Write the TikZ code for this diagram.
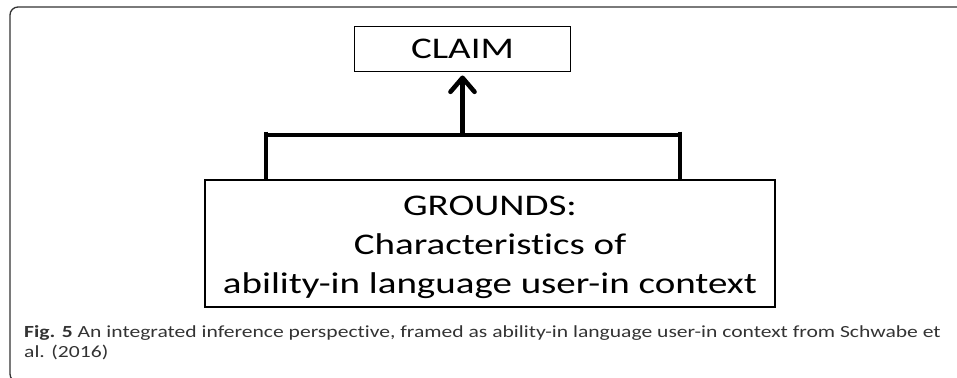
\documentclass[tikz,border=0pt]{standalone}
\usepackage{fontspec}
\usetikzlibrary{arrows.meta}
\newfontfamily\diagfont{Carlito}[FakeStretch=1.3,Ligatures=NoCommon]
\newfontfamily\capfont{Carlito}[FakeStretch=1.27,Ligatures=NoCommon]
\definecolor{framegray}{HTML}{333333}
\definecolor{capgray}{HTML}{333333}
\begin{document}
\begin{tikzpicture}[x=1pt,y=-1pt,
  box/.style={draw=black, line width=1.6pt, inner sep=0pt,
    font=\diagfont\fontsize{30}{39}\selectfont, align=center},
  legline/.style={draw=black, line width=4pt},
  barline/.style={draw=black, line width=3.6pt},
  uparrow/.style={draw=black, line width=4.6pt,
    -{Straight Barb[length=14pt,width=24pt,round]}},
  frameline/.style={draw=framegray, line width=1.3pt, rounded corners=8pt},
  captext/.style={anchor=base west, inner sep=0pt, text=capgray,
    font=\capfont\fontsize{17}{20}\selectfont}]
\useasboundingbox (0,0) rectangle (957,377);
\begin{scope}
  \clip (0,0) rectangle (957,377);
  \draw[frameline] (10,7) rectangle (1000,382);
\end{scope}
\node[box, minimum width=216pt, minimum height=45pt] (claim) at (462.5,49.2) {CLAIM};
\node[box, minimum width=570pt, minimum height=127pt] (grounds) at (490,243.5)
  {\rule{0pt}{27pt}GROUNDS:\\Characteristics of\\ability-in language user-in context};
\coordinate (legL) at (266,131.5);
\coordinate (legR) at (680,131.5);
\coordinate (barL) at (266,135);
\coordinate (barR) at (680,135);
\coordinate (barM) at (462.5,135);
\draw[legline] (legL) -- (legL |- grounds.north);
\draw[legline] (legR) -- (legR |- grounds.north);
\draw[barline] (barL) -- (barR);
\draw[uparrow] (barM) -- ([yshift=-3pt]claim.south);
\node[captext] (cap1) at (24,337)
  {\textbf{Fig. 5} An integrated inference perspective, framed as ability-in language user-in context from Schwabe et};
\node[captext] (cap2) at (24,357) {al. (2016)};
\end{tikzpicture}
\end{document}
